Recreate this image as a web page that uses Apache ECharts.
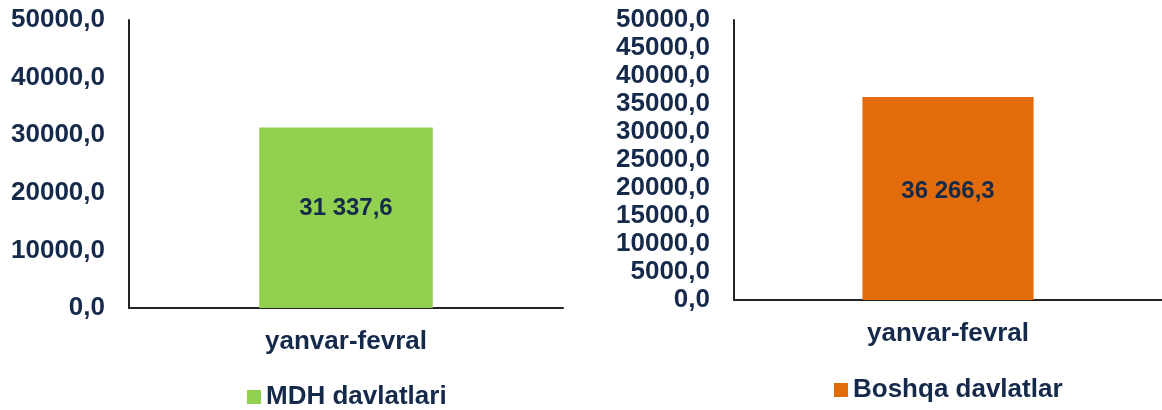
<!DOCTYPE html>
<html>
<head>
<meta charset="utf-8">
<script src="https://cdn.jsdelivr.net/npm/echarts@6/dist/echarts.min.js"></script>
<style>
html, body { margin: 0; padding: 0; background: #fff; }
#main { width: 1162px; height: 410px; }
</style>
</head>
<body>
<div id="main"></div>
<script>
// data
var categories = ['yanvar-fevral'];
var mdhValues = [31337.6];
var otherValues = [36266.3];
var seriesNames = ['MDH davlatlari', 'Boshqa davlatlar'];

var textColor = '#152a4a';
var font = 'Liberation Sans, Arial, sans-serif';

// 31337.6 -> "31 337,6"
function fmtValue(v) {
	var parts = v.toFixed(1).split('.');
	return parts[0].replace(/\B(?=(\d{3})+(?!\d))/g, ' ') + ',' + parts[1];
}
function fmtTick(v) {
	return v.toFixed(1).replace('.', ',');
}

function yAxis(idx, interval) {
	return {
		type: 'value', gridIndex: idx, min: 0, max: 50000, interval: interval,
		axisLine: { show: true, lineStyle: { color: '#222', width: 2 } },
		axisTick: { show: false },
		splitLine: { show: false },
		axisLabel: { color: textColor, fontFamily: font, fontWeight: 'bold', fontSize: 26, margin: 24, formatter: fmtTick }
	};
}
function xAxis(idx) {
	return {
		type: 'category', gridIndex: idx, data: categories,
		axisLine: { lineStyle: { color: '#222', width: 2 } },
		axisTick: { show: false },
		axisLabel: { color: textColor, fontFamily: font, fontWeight: 'bold', fontSize: 26, margin: 21 }
	};
}
function barLabel(offsetY) {
	return {
		show: true, position: 'inside', offset: [0, offsetY],
		color: textColor, fontFamily: font, fontWeight: 'bold', fontSize: 24,
		formatter: function (p) { return fmtValue(p.value); }
	};
}
function legend(name, left, top) {
	return {
		data: [name], left: left, top: top, icon: 'rect', itemWidth: 14, itemHeight: 14, itemGap: 6,
		textStyle: { color: textColor, fontFamily: font, fontWeight: 'bold', fontSize: 26 }
	};
}

var myChart = echarts.init(document.getElementById('main'));
myChart.setOption({
	animation: false,
	backgroundColor: '#fff',
	grid: [
		{ left: 129, top: 20, width: 434, height: 288 },
		{ left: 734, top: 20, width: 428, height: 280 }
	],
	xAxis: [xAxis(0), xAxis(1)],
	yAxis: [yAxis(0, 10000), yAxis(1, 5000)],
	legend: [legend(seriesNames[0], 242, 379), legend(seriesNames[1], 829, 372)],
	series: [
		{ name: seriesNames[0], type: 'bar', xAxisIndex: 0, yAxisIndex: 0, data: mdhValues,
		  barWidth: '40%', itemStyle: { color: '#92d050' }, label: barLabel(-9) },
		{ name: seriesNames[1], type: 'bar', xAxisIndex: 1, yAxisIndex: 1, data: otherValues,
		  barWidth: '40%', itemStyle: { color: '#e36c0a' }, label: barLabel(-7) }
	]
});
</script>
</body>
</html>
